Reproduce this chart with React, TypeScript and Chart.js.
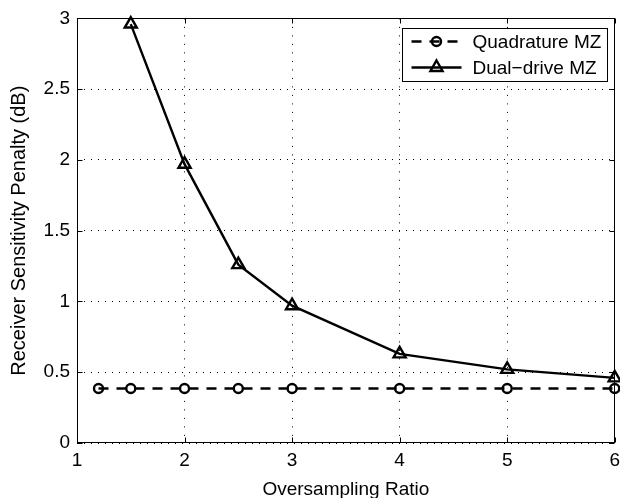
import { useEffect, useRef } from 'react';
import { Chart, registerables } from 'chart.js';

Chart.register(...registerables);

// ---- Data ----
const seriesLabels = ['Quadrature MZ', 'Dual\u2212drive MZ'];
const quadX = [1.2, 1.5, 2, 2.5, 3, 4, 5, 6];
const quadY = [0.385, 0.385, 0.385, 0.385, 0.385, 0.385, 0.385, 0.385];
const dualX = [1.5, 2, 2.5, 3, 4, 5, 6];
const dualY = [2.96, 1.97, 1.26, 0.97, 0.63, 0.52, 0.46];
const xTicks = [1, 2, 3, 4, 5, 6];
const yTicks = [0, 0.5, 1, 1.5, 2, 2.5, 3];
const xTitle = 'Oversampling Ratio';
const yTitle = 'Receiver Sensitivity Penalty (dB)';

const FONT = '"Liberation Sans", Arial, Helvetica, sans-serif';

const framePlugin = {
  id: 'frame',
  beforeDatasetsDraw(chart: any) {
    const { ctx, chartArea: a, scales } = chart;
    ctx.save();
    ctx.strokeStyle = '#000';
    ctx.lineWidth = 1;
    ctx.setLineDash([]);
    const L = Math.round(a.left) + 0.5;
    const R = Math.round(a.right) - 0.5;
    const T = Math.round(a.top) + 0.5;
    const B = Math.round(a.bottom) - 0.5;
    ctx.strokeRect(L, T, R - L, B - T);
    const tl = 5;
    ctx.beginPath();
    for (const v of xTicks) {
      const px = Math.round(scales.x.getPixelForValue(v)) + 0.5;
      ctx.moveTo(px, B);
      ctx.lineTo(px, B - tl);
      ctx.moveTo(px, T);
      ctx.lineTo(px, T + tl);
    }
    for (const v of yTicks) {
      const py = Math.round(scales.y.getPixelForValue(v)) + 0.5;
      ctx.moveTo(L, py);
      ctx.lineTo(L + tl, py);
      ctx.moveTo(R, py);
      ctx.lineTo(R - tl, py);
    }
    ctx.stroke();
    ctx.restore();
  },
};

function drawMarker(ctx: CanvasRenderingContext2D, style: string, x: number, y: number, r: number) {
  ctx.beginPath();
  if (style === 'circle') {
    ctx.arc(x, y, r, 0, Math.PI * 2);
  } else {
    for (let i = 0; i < 3; i++) {
      const ang = (i * 2 * Math.PI) / 3;
      const px = x + Math.sin(ang) * r;
      const py = y - Math.cos(ang) * r;
      if (i === 0) ctx.moveTo(px, py);
      else ctx.lineTo(px, py);
    }
    ctx.closePath();
  }
  ctx.stroke();
}

const legendPlugin = {
  id: 'boxLegend',
  afterDraw(chart: any) {
    const { ctx, chartArea: a } = chart;
    const w = 205;
    const h = 53;
    const left = Math.round(a.right - 8 - w) + 0.5;
    const top = Math.round(a.top + 10) + 0.5;
    ctx.save();
    ctx.fillStyle = '#fff';
    ctx.fillRect(left, top, w, h);
    ctx.strokeStyle = '#000';
    ctx.lineWidth = 1;
    ctx.setLineDash([]);
    ctx.strokeRect(left, top, w, h);
    chart.data.datasets.forEach((ds: any, i: number) => {
      const y = top + 13 + i * 26;
      ctx.strokeStyle = '#000';
      ctx.lineWidth = ds.borderWidth;
      ctx.setLineDash(ds.borderDash || []);
      ctx.beginPath();
      ctx.moveTo(left + 9, y);
      ctx.lineTo(left + 59, y);
      ctx.stroke();
      ctx.setLineDash([]);
      drawMarker(ctx, ds.pointStyle, left + 34, y, ds.pointRadius);
      ctx.fillStyle = '#000';
      ctx.font = `19px ${FONT}`;
      ctx.textBaseline = 'middle';
      ctx.textAlign = 'left';
      ctx.fillText(ds.label, left + 70, y + 1);
    });
    ctx.restore();
  },
};

export default function App() {
  const ref = useRef<HTMLCanvasElement | null>(null);

  useEffect(() => {
    document.body.style.margin = '0';
    const canvas = ref.current;
    if (!canvas) return;
    const chart = new Chart(canvas, {
      type: 'scatter',
      data: {
        datasets: [
          {
            label: seriesLabels[0],
            data: quadX.map((x, i) => ({ x, y: quadY[i] })),
            showLine: true,
            borderColor: '#000',
            backgroundColor: 'transparent',
            borderWidth: 2.4,
            borderDash: [10, 8],
            pointStyle: 'circle',
            pointRadius: 4.5,
            pointBorderWidth: 2.4,
            pointBorderColor: '#000',
            pointBackgroundColor: 'transparent',
            clip: false,
          } as any,
          {
            label: seriesLabels[1],
            data: dualX.map((x, i) => ({ x, y: dualY[i] })),
            showLine: true,
            borderColor: '#000',
            backgroundColor: 'transparent',
            borderWidth: 2.4,
            pointStyle: 'triangle',
            pointRadius: 7,
            pointBorderWidth: 2.4,
            pointBorderColor: '#000',
            pointBackgroundColor: 'transparent',
            clip: false,
          } as any,
        ],
      },
      options: {
        responsive: false,
        animation: false,
        layout: { autoPadding: false, padding: { top: 17, right: 4, left: 0, bottom: 0 } },
        plugins: {
          legend: { display: false },
          tooltip: { enabled: false },
        },
        scales: {
          x: {
            type: 'linear',
            min: 1,
            max: 6,
            afterBuildTicks: (s: any) => {
              s.ticks = xTicks.map((v) => ({ value: v }));
            },
            afterFit: (s: any) => {
              s.height = 55;
            },
            ticks: {
              color: '#000',
              font: { family: FONT, size: 19 },
              padding: 0,
              maxRotation: 0,
              autoSkip: false,
              callback: (v: any) => String(v),
            },
            grid: {
              color: '#000',
              lineWidth: 1,
              drawTicks: true,
              tickLength: 6,
              tickColor: 'rgba(0,0,0,0)',
            },
            border: { display: false, dash: [1, 7.5] },
            title: {
              display: true,
              text: xTitle,
              color: '#000',
              font: { family: FONT, size: 19 },
              padding: { top: 0, bottom: -3 },
            },
          },
          y: {
            type: 'linear',
            min: 0,
            max: 3,
            afterBuildTicks: (s: any) => {
              s.ticks = yTicks.map((v) => ({ value: v }));
            },
            afterFit: (s: any) => {
              s.width = 77;
            },
            ticks: {
              color: '#000',
              font: { family: FONT, size: 19 },
              padding: 7,
              autoSkip: false,
              callback: (v: any) => String(v),
            },
            grid: {
              color: '#000',
              lineWidth: 1,
              drawTicks: false,
            },
            border: { display: false, dash: [1, 6] },
            title: {
              display: true,
              text: yTitle,
              color: '#000',
              font: { family: FONT, size: 20 },
              padding: { top: 7, bottom: 0 },
            },
          },
        },
      } as any,
      plugins: [framePlugin, legendPlugin],
    });
    return () => chart.destroy();
  }, []);

  return <canvas ref={ref} width={620} height={498} style={{ display: 'block' }} />;
}
